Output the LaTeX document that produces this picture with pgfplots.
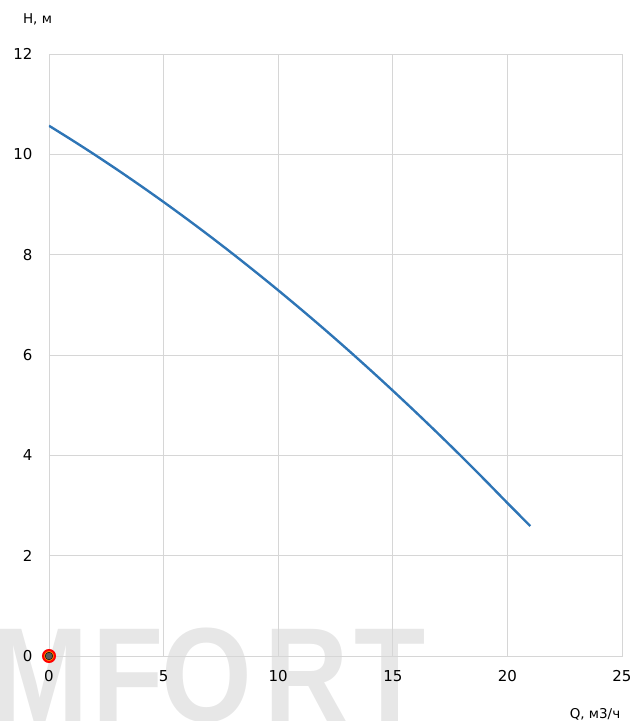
\documentclass[border=0pt]{standalone}
\usepackage{pgfplots}
\pgfplotsset{compat=1.18}
\usetikzlibrary{calc}
\usepackage{fontspec}
\setmainfont{DejaVu Sans}
\newfontfamily\wmfont{Liberation Sans}
\definecolor{gridc}{RGB}{214,214,214}
\definecolor{curvec}{RGB}{46,117,182}
\definecolor{wmc}{RGB}{231,231,231}
\definecolor{dotc}{RGB}{90,90,90}
\begin{document}
\begin{tikzpicture}
% watermark
\foreach \ch/\xx in {M/40,F/128,O/207,R/307,T/390}{
  \node[anchor=base, inner sep=0pt, text=wmc, xscale=0.87, font=\wmfont\bfseries\fontsize{134bp}{134bp}\selectfont] at (\xx bp-49bp, -65bp) {\ch};
}
\begin{axis}[
  name=ax,
  at={(0,0)}, anchor=south west,
  scale only axis,
  width=573bp, height=602bp,
  xmin=0, xmax=25, ymin=0, ymax=12,
  xtick={0,5,10,15,20,25}, ytick={0,2,4,6,8,10,12},
  grid=major,
  major grid style={gridc, line width=0.8pt},
  axis line style={gridc, line width=0.8pt},
  tick style={draw=none},
  ticklabel style={font=\fontsize{15bp}{17bp}\selectfont, text=black},
  /pgf/number format/assume math mode=true,
  xticklabel style={yshift=-11bp},
  yticklabel style={xshift=-13bp},
  clip mode=individual,
]
\addplot[curvec, line width=2.4pt, smooth] coordinates {
(0,10.57) (1,10.285) (2,9.991) (3,9.687) (4,9.373) (5,9.05) (6,8.717) (7,8.375) (8,8.023) (9,7.661) (10,7.29)
(11,6.909) (12,6.519) (13,6.119) (14,5.709) (15,5.29) (16,4.861) (17,4.423) (18,3.975) (19,3.517) (20,3.05) (21,2.59)
};
\addplot[only marks, mark=*, mark size=6bp, mark options={fill=orange, draw=red, line width=2bp}] coordinates {(0,0)};
\addplot[only marks, mark=*, mark size=3.8bp, mark options={fill=dotc, draw=none}] coordinates {(0,0)};
\end{axis}
\node[font=\fontsize{13.5bp}{15bp}\selectfont] at ($(ax.north west)+(-11.5bp,35bp)$) {H, м};
\node[font=\fontsize{13.5bp}{15bp}\selectfont] at ($(ax.south east)+(-27bp,-58bp)$) {Q, м3/ч};
\pgfresetboundingbox
\useasboundingbox ($(ax.south west)+(-49bp,-65bp)$) rectangle ($(ax.north east)+(11bp,54bp)$);
\end{tikzpicture}
\end{document}
